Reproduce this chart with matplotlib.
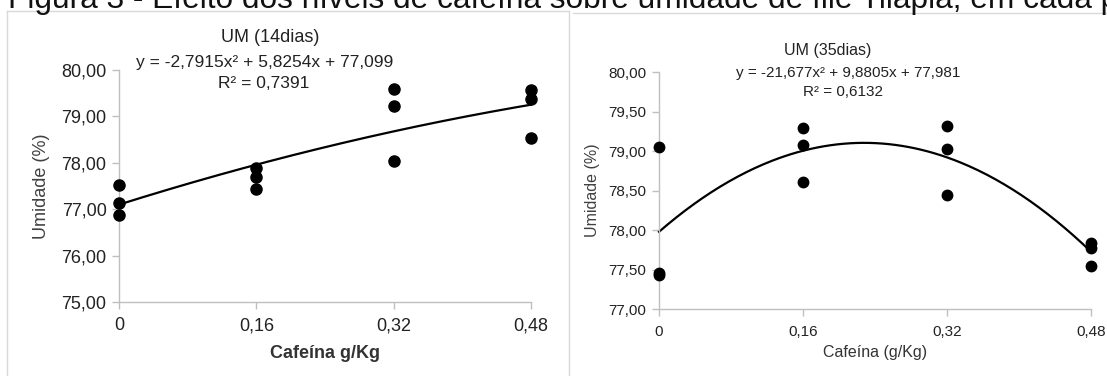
import numpy as np
import matplotlib
matplotlib.use("Agg")
import matplotlib.pyplot as plt
from matplotlib.lines import Line2D
from matplotlib import font_manager

W, H = 1107, 376
fig = plt.figure(figsize=(W / 100, H / 100), dpi=100)

# ---------------- data ----------------
header = "Figura 3 - Efeito dos níveis de cafeína sobre umidade de filé Tilápia, em cada p"

x_levels = [0, 0.16, 0.32, 0.48]
x_ticklabels = ["0", "0,16", "0,32", "0,48"]

# 14 dias
x14 = [0, 0, 0, 0.16, 0.16, 0.16, 0.32, 0.32, 0.32, 0.48, 0.48, 0.48]
y14 = [77.52, 77.13, 76.88, 77.89, 77.69, 77.44, 79.60, 79.22, 78.04, 79.57, 79.37, 78.54]
coef14 = [-2.7915, 5.8254, 77.099]
eq14 = "y = -2,7915x² + 5,8254x + 77,099"
r2_14 = "R² = 0,7391"
yticks14 = [75, 76, 77, 78, 79, 80]

# 35 dias
x35 = [0, 0, 0, 0.16, 0.16, 0.16, 0.32, 0.32, 0.32, 0.48, 0.48, 0.48]
y35 = [79.05, 77.46, 77.43, 79.29, 79.08, 78.61, 79.32, 79.03, 78.45, 77.84, 77.78, 77.55]
coef35 = [-21.677, 9.8805, 77.981]
eq35 = "y = -21,677x² + 9,8805x + 77,981"
r2_35 = "R² = 0,6132"
yticks35 = [77.0, 77.5, 78.0, 78.5, 79.0, 79.5, 80.0]

# ---------------- fonts ----------------
names = {f.name for f in font_manager.fontManager.ttflist}
base = "Liberation Sans"
narrow = "Liberation Sans Narrow" if "Liberation Sans Narrow" in names else base
plt.rcParams["font.family"] = [base, "DejaVu Sans"]

def fx(px):
    return px / W

def fy(py):
    return 1 - py / H

# header (cut off at top in reference) - size it so it spans the figure width
hdr = fig.text(fx(8), fy(8), header, fontsize=20, color="#111111", va="baseline", ha="left")
fig.canvas.draw()
wpx = hdr.get_window_extent(renderer=fig.canvas.get_renderer()).width
hdr.set_fontsize(20 * 1108 / wpx)

# panel frames
fc = "#d9d9d9"
fig.add_artist(Line2D([fx(7), fx(7)], [fy(376), fy(11)], color=fc, lw=1))
fig.add_artist(Line2D([fx(7), fx(569)], [fy(11), fy(11)], color=fc, lw=1))
fig.add_artist(Line2D([fx(569), fx(569)], [fy(11), fy(376)], color=fc, lw=1))
fig.add_artist(Line2D([fx(573), fx(1107)], [fy(13), fy(13)], color=fc, lw=1))

def style(ax, yticks, fmt, fs, fam):
    for s in ["top", "right"]:
        ax.spines[s].set_visible(False)
    for s in ["left", "bottom"]:
        ax.spines[s].set_color("#bfbfbf")
        ax.spines[s].set_linewidth(1)
    ax.set_xlim(0, 0.48)
    ax.set_ylim(yticks[0], yticks[-1])
    ax.set_xticks(x_levels)
    ax.set_xticklabels(x_ticklabels)
    ax.set_yticks(yticks)
    ax.set_yticklabels([fmt(v) for v in yticks])
    ax.tick_params(axis="both", colors="#bfbfbf", length=5, width=1, labelcolor="#222222",
                   labelsize=fs)
    ax.tick_params(axis="x", pad=6)
    ax.tick_params(axis="y", pad=4)
    for lab in ax.get_xticklabels() + ax.get_yticklabels():
        lab.set_family(fam)

# ---------------- left panel ----------------
ax1 = fig.add_axes([fx(119), fy(302), fx(531) - fx(119), fy(70) - fy(302)])
style(ax1, yticks14, lambda v: f"{v:.2f}".replace(".", ","), 13, [base, "DejaVu Sans"])
xx = np.linspace(0, 0.48, 200)
ax1.plot(xx, np.polyval(coef14, xx), color="black", lw=1.6, clip_on=False)
ax1.plot(x14, y14, "o", color="black", ms=8, clip_on=False, zorder=5)
fig.text(fx(270), fy(38), "UM (14dias)", fontsize=13, ha="center", va="center", color="#222222")
fig.text(fx(265), fy(63), eq14, fontsize=12.5, ha="center", va="center", color="#222222")
fig.text(fx(264), fy(83), r2_14, fontsize=12.5, ha="center", va="center", color="#222222")
fig.text(fx(42), fy(186), "Umidade (%)", fontsize=13, rotation=90, ha="center", va="center",
         color="#404040")
fig.text(fx(325), fy(353), "Cafeína g/Kg", fontsize=13, fontweight="bold", ha="center",
         va="center", color="#333333")

# ---------------- right panel ----------------
ax2 = fig.add_axes([fx(659), fy(309.3), fx(1091) - fx(659), fy(72.3) - fy(309.3)])
style(ax2, yticks35, lambda v: f"{v:.2f}".replace(".", ","), 11, [narrow, base])
ax2.plot(xx, np.polyval(coef35, xx), color="black", lw=1.6, clip_on=False)
ax2.plot(x35, y35, "o", color="black", ms=7.5, clip_on=False, zorder=5)
fig.text(fx(828), fy(51), "UM (35dias)", fontsize=11.5, ha="center", va="center",
         color="#222222", family=[narrow, base])
fig.text(fx(848), fy(73), eq35, fontsize=11, ha="center", va="center", color="#222222",
         family=[narrow, base])
fig.text(fx(843), fy(92), r2_35, fontsize=11, ha="center", va="center", color="#222222",
         family=[narrow, base])
fig.text(fx(592), fy(190), "Umidade (%)", fontsize=11.5, rotation=90, ha="center",
         va="center", color="#404040", family=[narrow, base])
fig.text(fx(875), fy(352), "Cafeína (g/Kg)", fontsize=11.5, ha="center", va="center",
         color="#333333", family=[narrow, base])

fig.savefig("out.png", dpi=100)
